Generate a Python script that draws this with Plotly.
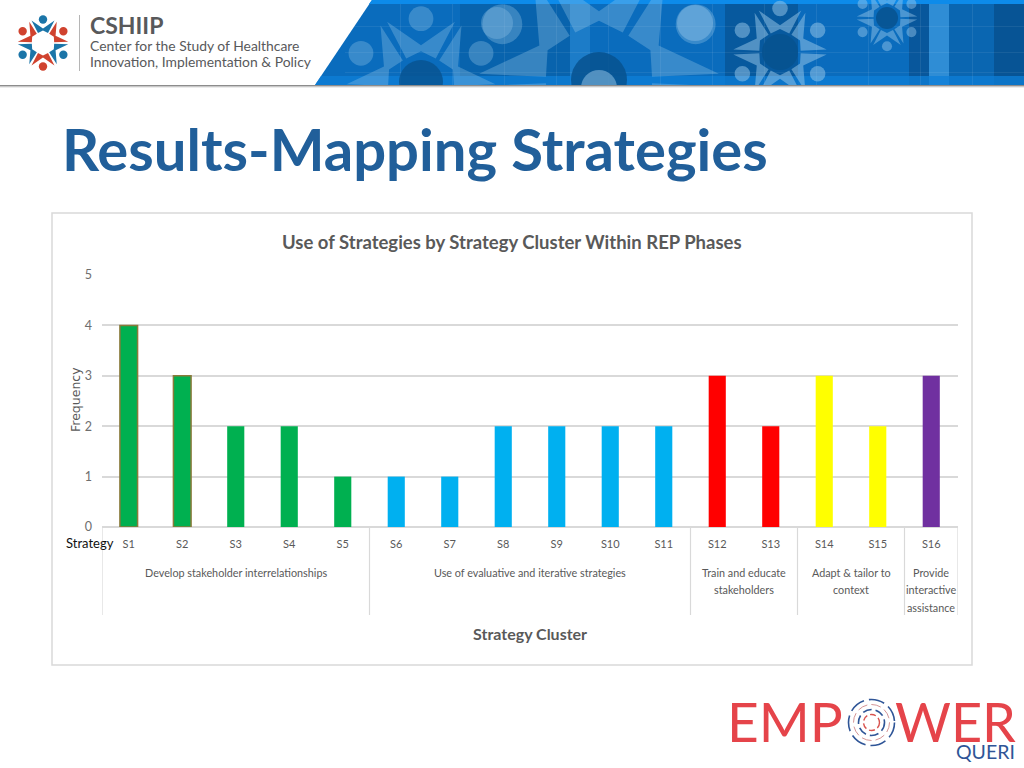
import numpy as np
import plotly.graph_objects as go

# chart data
strategies = ["S%d" % i for i in range(1, 17)]
frequency = [4, 3, 2, 2, 1, 1, 1, 2, 2, 2, 2, 3, 2, 3, 2, 3]
clusters = [["Develop stakeholder interrelationships"], ["Use of evaluative and iterative strategies"],
            ["Train and educate", "stakeholders"], ["Adapt &amp; tailor to", "context"],
            ["Provide", "interactive", "assistance"]]
cluster_sizes = [5, 6, 2, 2, 1]
cluster_colors = ["#00b050", "#00b0f0", "#ff0000", "#ffff00", "#7030a0"]
y_ticks = [0, 1, 2, 3, 4, 5]

W, H = 1024, 768
FONT = "Lato"
GREY = "#595959"
GRID = "#d9d9d9"


def px(x):
    return x / W


def py(y):
    return 1 - y / H


def rect(x0, y0, x1, y1, color, opacity=1):
    return dict(type="rect", xref="paper", yref="paper", x0=px(x0), x1=px(x1), y0=py(y0), y1=py(y1),
                fillcolor=color, opacity=opacity, line_width=0, layer="below")


def circle(cx, cy, r, color, opacity=1):
    return dict(type="circle", xref="paper", yref="paper", x0=px(cx - r), x1=px(cx + r), y0=py(cy + r), y1=py(cy - r),
                fillcolor=color, opacity=opacity, line_width=0, layer="below")


def ring(cx, cy, r, color, width, dash):
    return dict(type="circle", xref="paper", yref="paper", x0=px(cx - r), x1=px(cx + r), y0=py(cy + r), y1=py(cy - r),
                line=dict(color=color, width=width, dash=dash), layer="below")


def poly(points, color, opacity=1):
    path = "M " + " L ".join("%.5f,%.5f" % (px(a), py(b)) for a, b in points) + " Z"
    return dict(type="path", xref="paper", yref="paper", path=path, fillcolor=color, opacity=opacity,
                line_width=0, layer="below")


# the six little people of the logo, also used big and pale in the banner
person = np.array([(-11.5, -22.5), (0, -14.5), (11.5, -22.5), (5, -10), (0, -12.5), (-5, -10)])


def motif(cx, cy, scale, colors, opacity=1):
    out = []
    for i in range(6):
        a = np.radians(60 * i)
        rot = np.array([[np.cos(a), -np.sin(a)], [np.sin(a), np.cos(a)]])
        pts = (rot @ person.T).T * scale + [cx, cy]
        head = rot @ np.array([0, -23.5]) * scale + [cx, cy]
        col = colors[i % 2]
        out.append(poly(pts, col, opacity))
        out.append(circle(head[0], head[1], 4.2 * scale, col, opacity))
    return out


shapes = []

# banner background
shapes.append(poly([(372, 0), (1024, 0), (1024, 85), (315, 85)], "#0a6cbd"))
for x0, x1, col, op in [(460, 570, "#07528f", 0.35), (570, 590, "#4aa3e0", 0.3), (725, 798, "#064a85", 0.55),
                        (798, 830, "#0a6cbd", 0.4), (909, 929, "#064a85", 0.6), (929, 949, "#3f9be0", 0.7),
                        (949, 994, "#0a62a8", 0.6), (994, 1024, "#064a85", 0.7)]:
    shapes.append(rect(x0, 0, x1, 85, col, op))
shapes.append(poly([(372, 0), (1024, 0), (1024, 4), (369, 4)], "#0d8bea"))
shapes.append(poly([(321, 76), (1024, 76), (1024, 85), (315, 85)], "#0d7fd8", 0.75))
for gx in range(400, 1024, 52):
    shapes.append(rect(gx, 4, gx + 1, 85, "#ffffff", 0.08))
for gy in [26, 52, 72]:
    shapes.append(rect(345, gy, 1024, gy + 1, "#ffffff", 0.07))

PALE = "#9cc9ea"
shapes += motif(421, 88, 2.95, [PALE, PALE], 0.32)
shapes.append(circle(421, 82, 22, "#07528f", 0.8))
shapes += motif(599, 80, 4.75, [PALE, PALE], 0.32)
shapes.append(circle(599, 80, 28, "#07528f", 0.85))
shapes.append(circle(599, 88, 18, PALE, 0.5))
shapes += motif(780, 52, 1.85, [PALE, PALE], 0.5)
shapes.append(circle(780, 52, 18, "#07528f", 0.9))
shapes += motif(887, 18, 1.2, [PALE, PALE], 0.45)
shapes.append(circle(887, 18, 11, "#07528f", 0.85))
shapes.append(circle(497, 23, 16, PALE, 0.3))
shapes.append(circle(695, 23, 18, PALE, 0.4))

# cover what the big shapes leave under the banner, then its shadow
shapes.append(rect(0, 85, W, H, "#ffffff"))
shapes.append(rect(0, 85, W, 86, "#8c8c8c"))
shapes.append(rect(0, 86, W, 87, "#c8c8c8"))
shapes.append(rect(0, 87, W, 88, "#ececec"))

# CSHIIP logo
shapes += motif(43, 43, 1, ["#1b75a8", "#d0432f"])
shapes.append(rect(79, 15, 80, 71, "#b5b5b5"))

# chart frame
shapes.append(dict(type="rect", xref="paper", yref="paper", x0=px(52), x1=px(972), y0=py(665), y1=py(213),
                   line=dict(color=GRID, width=1.5), fillcolor="rgba(0,0,0,0)", layer="below"))

# EMPOWER rings
shapes.append(ring(871.5, 722.5, 23, "#2f5597", 1.6, "16px,5px"))
shapes.append(ring(871.5, 722.5, 18, "#c9787a", 0.8, "10px,4px"))
shapes.append(ring(871.5, 722.5, 13, "#2f5597", 1.6, "9px,4px"))
shapes.append(ring(871.5, 722.5, 8, "#d9534f", 1.4, "6px,3px"))

# one colour per bar, cluster dividers under the axis
bar_colors = []
edges = [-0.5]
for size, col in zip(cluster_sizes, cluster_colors):
    bar_colors += [col] * size
    edges.append(edges[-1] + size)
for e in edges:
    shapes.append(dict(type="line", xref="x", yref="paper", x0=e, x1=e, y0=py(615), y1=py(527),
                       line=dict(color=GRID, width=1.2)))

line_colors = ["#8a7a3a"] * 2 + bar_colors[2:]
line_widths = [1.5] * 2 + [0] * 14
bar_widths = [0.33] * 2 + [0.32] * 14

fig = go.Figure(go.Bar(x=strategies, y=frequency, width=bar_widths,
                       marker=dict(color=bar_colors, line=dict(color=line_colors, width=line_widths))))


def label(x, y, text, size, color=GREY, font=FONT, anchor="center", bold=False, **kw):
    if bold:
        text = "<b>%s</b>" % text
    return dict(xref="paper", yref="paper", x=px(x), y=py(y), text=text, showarrow=False, xanchor=anchor,
                yanchor="middle", font=dict(family=font, size=size, color=color), **kw)


annotations = [
    label(60, 148, "Results-Mapping Strategies", 58, "#215f9a", "Lato", "left", True),
    label(512, 242, "Use of Strategies by Strategy Cluster Within REP Phases", 18.5, GREY, bold=True),
    label(530, 633, "Strategy Cluster", 16, GREY, bold=True),
    label(75, 400, "Frequency", 12.5, GREY, "DejaVu Sans", textangle=-90),
    label(64, 543, "Strategy", 13, "#111111", anchor="left"),
    label(88, 25, "CSHIIP", 23, "#58595b", "Lato", "left", True),
    label(88, 45, "Center for the Study of Healthcare", 13.9, "#58595b", "Lato", "left"),
    label(88, 62, "Innovation, Implementation &amp; Policy", 13.9, "#58595b", "Lato", "left"),
    label(725, 721, "EMP", 55, "#e5444a", "Lato", "left"),
    label(1018, 721, "WER", 54, "#e5444a", "Lato", "right"),
    label(1017, 751, "QUERI", 19.5, "#2f5597", "Lato", "right"),
]

# cluster names centred under their bars, one annotation per line for the wider line gap
for i, lines in enumerate(clusters):
    for j, text in enumerate(lines):
        annotations.append(dict(xref="x", yref="paper", x=(edges[i] + edges[i + 1]) / 2, y=py(572 + 17.5 * j),
                                text=text, showarrow=False, xanchor="center", yanchor="middle",
                                font=dict(family=FONT, size=10.8, color=GREY)))

fig.update_layout(
    width=W, height=H, margin=dict(l=0, r=0, t=0, b=0, autoexpand=False), showlegend=False,
    paper_bgcolor="white", plot_bgcolor="rgba(0,0,0,0)", shapes=shapes, annotations=annotations,
    xaxis=dict(domain=[px(102), px(958)], type="category", range=[-0.5, 15.5], showgrid=False, showline=False,
               ticks="", tickfont=dict(family=FONT, size=11, color=GREY), ticklabelstandoff=9),
    yaxis=dict(domain=[py(527), py(275)], range=[0, 5], tickvals=y_ticks, gridcolor=GRID, gridwidth=1.5,
               zerolinecolor=GRID, zerolinewidth=1.5, ticks="", ticklabelstandoff=9,
               tickfont=dict(family=FONT, size=12.5, color="#6e6e6e")),
)

fig.write_html("out.html", config={"displayModeBar": False},
               post_script="document.body.style.margin='0';")
